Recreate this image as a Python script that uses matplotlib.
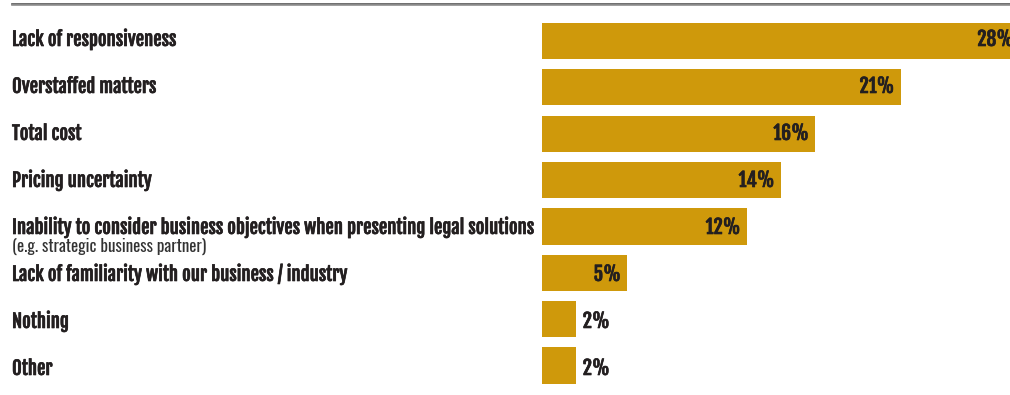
import matplotlib
matplotlib.use("Agg")
import matplotlib.pyplot as plt
import matplotlib.transforms as mtransforms
import matplotlib.patheffects as pe
from matplotlib.lines import Line2D

plt.rcParams['font.family'] = ['Fjalla One', 'Barlow Condensed', 'DejaVu Sans']

categories = [
    "Lack of responsiveness",
    "Overstaffed matters",
    "Total cost",
    "Pricing uncertainty",
    "Inability to consider business objectives when presenting legal solutions",
    "Lack of familiarity with our business / industry",
    "Nothing",
    "Other",
]
notes = ["", "", "", "", "(e.g. strategic business partner)", "", "", ""]
values = [28, 21, 16, 14, 12, 5, 2, 2]

bar_color = "#cf990b"
text_color = "#231f20"

W, H = 1010, 395
fig = plt.figure(figsize=(W / 100, H / 100), dpi=100)
ax = fig.add_axes([542 / W, 0, 468 / W, 1])

ypos = list(range(len(categories)))
ax.barh(ypos, values, height=0.78, color=bar_color)
ax.set_xlim(0, 27.38)
ax.set_ylim(7.636, -0.884)
ax.axis("off")

# text baselines run on a 47px pitch, starting 46px from the top
def baseline(i):
    return 1 - (46 + 47 * i) / H

lab_tr = fig.transFigure
val_tr = mtransforms.blended_transform_factory(ax.transData, fig.transFigure)
pad = 6.5 / 17.1  # ~6.5px gap between bar end and its value
heavy = [pe.withStroke(linewidth=0.45, foreground=text_color)]  # font has no bold face

for i, (cat, note, v) in enumerate(zip(categories, notes, values)):
    ax.text(12 / W, baseline(i), cat, transform=lab_tr, ha="left", va="baseline",
            fontsize=13.45, color=text_color, path_effects=heavy, clip_on=False)
    if note:
        ax.text(12 / W, baseline(i) - 18 / H, note, transform=lab_tr, ha="left",
                va="baseline", fontsize=12.2, color="#333333",
                family=["Oswald", "DejaVu Sans"], fontweight="light", clip_on=False)
    # value sits inside the bar unless the bar is too short
    if v >= 5:
        ax.text(v - pad, baseline(i), f"{v}%", transform=val_tr, ha="right",
                va="baseline", fontsize=14, color=text_color, path_effects=heavy,
                clip_on=False)
    else:
        ax.text(v + pad, baseline(i), f"{v}%", transform=val_tr, ha="left",
                va="baseline", fontsize=14, color=text_color, path_effects=heavy,
                clip_on=False)

# double rule along the top
fig.add_artist(Line2D([12 / W, 1], [1 - 3.6 / H, 1 - 3.6 / H],
                      transform=fig.transFigure, color="#555555", lw=1.2))
fig.add_artist(Line2D([12 / W, 1], [1 - 5.4 / H, 1 - 5.4 / H],
                      transform=fig.transFigure, color="#8f8f8f", lw=1.2))

fig.savefig("out.png", dpi=100)
